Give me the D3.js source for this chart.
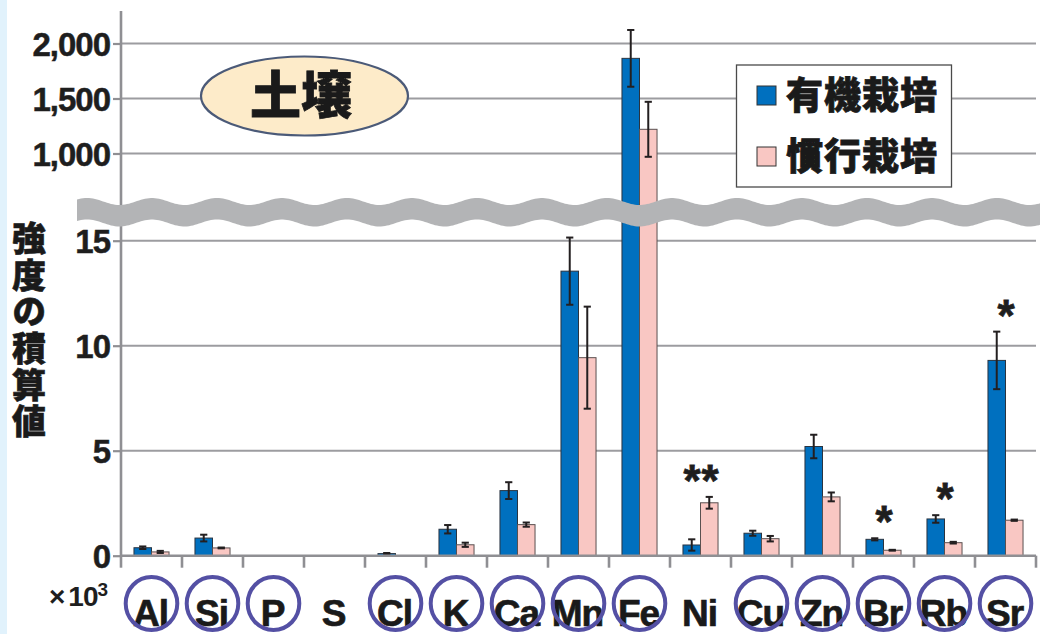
<!DOCTYPE html>
<html>
<head>
<meta charset="utf-8">
<script src="https://cdn.jsdelivr.net/npm/d3@7"></script>
<style>
  html, body { margin: 0; padding: 0; background: #ffffff; }
  svg { display: block; }
</style>
</head>
<body>
<svg id="chart" width="1040" height="634"></svg>
<script>
// Elements measured in soil samples
const elements = ["Al", "Si", "P", "S", "Cl", "K", "Ca", "Mn", "Fe", "Ni", "Cu", "Zn", "Br", "Rb", "Sr"];
// Elements that are circled under the axis
const circled = ["Al", "Si", "P", "Cl", "K", "Ca", "Mn", "Fe", "Cu", "Zn", "Br", "Rb", "Sr"];

// Integrated intensity (x10^3) – organic cultivation
const organic    = [0.38, 0.84, 0, 0, 0.10, 1.26, 3.10, 13.55, 1865, 0.51, 1.07, 5.20, 0.78, 1.75, 9.30];
const organicErr = [0.06, 0.16, 0, 0, 0.03, 0.20, 0.40, 1.60, 258, 0.27, 0.12, 0.56, 0.05, 0.18, 1.37];
// Integrated intensity (x10^3) – conventional cultivation
const conventional    = [0.18, 0.37, 0, 0, 0, 0.52, 1.48, 9.43, 1220, 2.52, 0.81, 2.80, 0.26, 0.62, 1.69];
const conventionalErr = [0.05, 0.02, 0, 0, 0, 0.10, 0.10, 2.43, 250, 0.28, 0.13, 0.21, 0.02, 0.04, 0.03];
// Significance marks
const marks = ["", "", "", "", "", "", "", "", "", "**", "", "", "*", "*", "*"];

const seriesNames = ["有機栽培", "慣行栽培"];
const seriesColors = ["#0070bf", "#f9c7c3"];

const lowerTicks = [0, 5, 10, 15];
const upperTicks = [1000, 1500, 2000];
const tickFormat = d3.format(",");

const svg = d3.select("#chart");
const W = 1040, H = 634;

// left tinted strip
svg.append("rect").attr("x", 0).attr("y", 0).attr("width", 7).attr("height", H).attr("fill", "#e1f2fc");

const plotLeft = 121, plotRight = 1036;
const axisTop = 11;

// broken y axis: two linear segments
const yLow = d3.scaleLinear().domain([0, 15]).range([555.7, 240.7]);
const yHigh = d3.scaleLinear().domain([1000, 2000]).range([153.5, 43.5]);
const lowMax = 16.4;
const yVal = v => v > lowMax ? yHigh(v) : yLow(v);

const x = d3.scaleBand().domain(elements).range([plotLeft, plotRight]).padding(0);
const xs = d3.scaleBand().domain([0, 1]).range([0, x.bandwidth()]).paddingInner(0).paddingOuter(0.74);

const gridColor = "#9c9ca0";
const axisColor = "#8f8f93";

// gridlines
const grid = svg.append("g");
lowerTicks.filter(t => t > 0).forEach(t => {
  grid.append("line").attr("x1", plotLeft).attr("x2", plotRight)
    .attr("y1", yLow(t)).attr("y2", yLow(t))
    .attr("stroke", gridColor).attr("stroke-width", 2);
});
upperTicks.forEach(t => {
  grid.append("line").attr("x1", plotLeft).attr("x2", plotRight)
    .attr("y1", yHigh(t)).attr("y2", yHigh(t))
    .attr("stroke", gridColor).attr("stroke-width", 2);
});

// y axes (lower and upper segments)
const numFont = "'Liberation Sans', Arial, sans-serif";
const axLow = d3.axisLeft(yLow).tickValues(lowerTicks).tickSize(8).tickFormat(tickFormat);
const axHigh = d3.axisLeft(yHigh).tickValues(upperTicks).tickSize(8).tickFormat(tickFormat);
[axLow, axHigh].forEach(ax => {
  const g = svg.append("g").attr("transform", `translate(${plotLeft},0)`).call(ax);
  g.select(".domain").remove();
  g.selectAll(".tick line").attr("stroke", axisColor).attr("stroke-width", 2.2);
  g.selectAll(".tick text")
    .attr("x", -11).attr("dy", "0.36em")
    .attr("fill", "#1e1e1e")
    .attr("stroke", "#1e1e1e").attr("stroke-width", 0.5)
    .style("font-family", numFont).style("font-weight", "bold")
    .style("font-size", "33px").style("letter-spacing", "-1px");
});
// vertical axis line
svg.append("line").attr("x1", plotLeft).attr("x2", plotLeft)
  .attr("y1", axisTop).attr("y2", yLow(0) + 1)
  .attr("stroke", axisColor).attr("stroke-width", 2.6);

// bars
const series = [
  { vals: organic, errs: organicErr },
  { vals: conventional, errs: conventionalErr }
];
const barG = svg.append("g");
series.forEach((s, si) => {
  elements.forEach((el, i) => {
    const v = s.vals[i];
    if (v <= 0) return;
    const bx = x(el) + xs(si);
    const top = yVal(v);
    barG.append("rect")
      .attr("x", bx).attr("y", top)
      .attr("width", xs.bandwidth()).attr("height", yLow(0) - top)
      .attr("fill", seriesColors[si])
      .attr("stroke", si === 0 ? "#2a3440" : "#5a5050")
      .attr("stroke-width", 1);
  });
});

// error bars
const errG = svg.append("g");
series.forEach((s, si) => {
  elements.forEach((el, i) => {
    const v = s.vals[i], e = s.errs[i];
    if (v <= 0) return;
    const cx = x(el) + xs(si) + xs.bandwidth() / 2;
    const y1 = yVal(v + e), y2 = yVal(Math.max(v - e, 0));
    errG.append("line").attr("x1", cx).attr("x2", cx).attr("y1", y1).attr("y2", y2)
      .attr("stroke", "#231f20").attr("stroke-width", 2);
    [y1, y2].forEach(yy => {
      errG.append("line").attr("x1", cx - 3.6).attr("x2", cx + 3.6).attr("y1", yy).attr("y2", yy)
        .attr("stroke", "#231f20").attr("stroke-width", 2);
    });
  });
});

// x axis line and ticks
svg.append("line").attr("x1", plotLeft).attr("x2", plotRight)
  .attr("y1", yLow(0)).attr("y2", yLow(0))
  .attr("stroke", axisColor).attr("stroke-width", 2.6);
const xTickPos = elements.map(el => x(el)).concat([plotRight]);
xTickPos.forEach(px => {
  svg.append("line").attr("x1", px).attr("x2", px)
    .attr("y1", yLow(0)).attr("y2", yLow(0) + 12)
    .attr("stroke", axisColor).attr("stroke-width", 2.6);
});

// wavy break band
const bandP = 65, bandA = 3.5, bandTop0 = 201.5, bandT = 21.5, bandX0 = 77, bandPhase = 217;
const topEdge = xx => bandTop0 - bandA * Math.cos(2 * Math.PI * (xx - bandPhase) / bandP);
const ptsTop = d3.range(bandX0, W + 2, 2).map(xx => [xx, topEdge(xx)]);
const ptsBot = ptsTop.slice().reverse().map(([xx, yy]) => [xx, yy + bandT]);
svg.append("path")
  .attr("d", d3.line()(ptsTop.concat(ptsBot)) + "Z")
  .attr("fill", "#b3b4b6");

// significance marks
elements.forEach((el, i) => {
  if (!marks[i]) return;
  const topVal = Math.max(organic[i] + organicErr[i], conventional[i] + conventionalErr[i]);
  svg.append("text")
    .attr("x", x(el) + x.bandwidth() / 2 + 1)
    .attr("y", yVal(topVal) - 1)
    .attr("text-anchor", "middle")
    .attr("fill", "#1e1e1e")
    .attr("stroke", "#1e1e1e").attr("stroke-width", 0.8)
    .style("font-family", numFont).style("font-weight", "bold")
    .style("font-size", "44px").style("letter-spacing", "1px")
    .text(marks[i]);
});

// element labels
const labG = svg.append("g");
elements.forEach(el => {
  labG.append("text")
    .attr("x", x(el) + x.bandwidth() / 2 - 1)
    .attr("y", 626)
    .attr("text-anchor", "middle")
    .attr("fill", "#1a1a1a")
    .attr("stroke", "#1a1a1a").attr("stroke-width", 0.7)
    .style("font-family", numFont).style("font-weight", "bold")
    .style("font-size", "37px").style("letter-spacing", "-1px")
    .text(el);
});
// circles around selected elements
circled.forEach(el => {
  svg.append("ellipse")
    .attr("cx", x(el) + x.bandwidth() / 2)
    .attr("cy", 603.5)
    .attr("rx", 25.8).attr("ry", 26.5)
    .attr("fill", "none")
    .attr("stroke", "#5450a4").attr("stroke-width", 4);
});

// unit label
const unit = svg.append("text").attr("x", 49).attr("y", 606)
  .attr("fill", "#1e1e1e")
  .style("font-family", numFont).style("font-weight", "bold").style("font-size", "28px");
unit.append("tspan").text("×").style("font-size", "28px");
unit.append("tspan").text("10").attr("dx", 3).style("letter-spacing", "-1px");
unit.append("tspan").text("3").attr("dy", -10).style("font-size", "19px");

// y axis title (vertical)
const jpFont = "'Noto Sans CJK JP', 'Noto Sans CJK SC', sans-serif";
svg.append("text")
  .attr("x", 29).attr("y", 221)
  .attr("fill", "#1a1a1a")
  .attr("stroke", "#1a1a1a").attr("stroke-width", 0.6)
  .style("writing-mode", "vertical-rl")
  .style("font-family", jpFont).style("font-weight", 900).style("font-size", "34px")
  .style("letter-spacing", "2.7px")
  .text("強度の積算値");

// title badge
svg.append("ellipse").attr("cx", 304.5).attr("cy", 96).attr("rx", 103.5).attr("ry", 39.5)
  .attr("fill", "#fdebc9").attr("stroke", "#4b5a78").attr("stroke-width", 2.2);
svg.append("text").attr("x", 301).attr("y", 96).attr("dy", "0.36em")
  .attr("text-anchor", "middle").attr("fill", "#1a1a1a")
  .attr("stroke", "#1a1a1a").attr("stroke-width", 0.8)
  .style("font-family", jpFont).style("font-weight", 900).style("font-size", "51px")
  .text("土壌");

// legend
const lg = svg.append("g");
lg.append("rect").attr("x", 736.5).attr("y", 65).attr("width", 215).attr("height", 122)
  .attr("fill", "#ffffff").attr("stroke", "#4a4a4a").attr("stroke-width", 1.3);
seriesNames.forEach((name, i) => {
  const cy = 96 + i * 61;
  lg.append("rect").attr("x", 757).attr("y", cy - 10).attr("width", 19).attr("height", 19)
    .attr("fill", seriesColors[i]).attr("stroke", "#333").attr("stroke-width", 1);
  lg.append("text").attr("x", 786).attr("y", cy).attr("dy", "0.36em")
    .attr("fill", "#1a1a1a")
    .attr("stroke", "#1a1a1a").attr("stroke-width", 0.8)
    .style("font-family", jpFont).style("font-weight", 900).style("font-size", "37px")
    .style("letter-spacing", "1px")
    .text(name);
});
</script>
</body>
</html>
